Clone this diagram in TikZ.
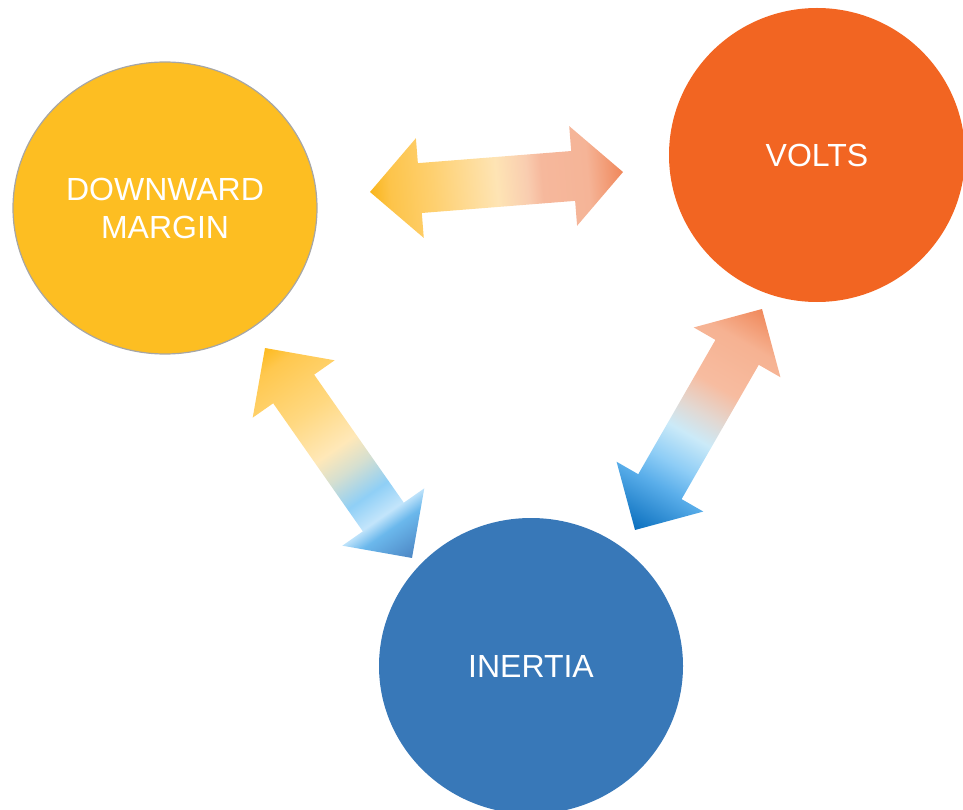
\documentclass[tikz,border=0pt]{standalone}
\usepackage{fontspec}
\setmainfont{Liberation Sans}
\usetikzlibrary{shapes.geometric,calc}

\definecolor{sunYellow}{HTML}{FDBE22}
\definecolor{voltOrange}{HTML}{F26522}
\definecolor{inertiaBlue}{HTML}{3878B8}
\definecolor{rimGray}{HTML}{A6A6A6}

% stops for the arrow shadings
\definecolor{yoA}{HTML}{F9B51C}\definecolor{yoB}{HTML}{FDC44A}\definecolor{yoC}{HTML}{FED070}
\definecolor{yoD}{HTML}{FEE4B4}\definecolor{yoE}{HTML}{F9CDB0}\definecolor{yoF}{HTML}{F6B89C}
\definecolor{yoG}{HTML}{F5B497}\definecolor{yoH}{HTML}{F0875A}
\definecolor{ybA}{HTML}{FDBA1E}\definecolor{ybB}{HTML}{FFC84F}\definecolor{ybC}{HTML}{FFD880}
\definecolor{ybD}{HTML}{FFE8B8}\definecolor{ybE}{HTML}{D5DFD0}\definecolor{ybF}{HTML}{8FCFF6}
\definecolor{ybG}{HTML}{C3E5FB}\definecolor{ybH}{HTML}{6BB8EC}\definecolor{ybI}{HTML}{4C86C4}
\definecolor{obA}{HTML}{F0885A}\definecolor{obB}{HTML}{F6B292}\definecolor{obC}{HTML}{F7BCA0}
\definecolor{obD}{HTML}{E2D8D2}\definecolor{obE}{HTML}{CBEAF8}\definecolor{obF}{HTML}{8ECDF6}
\definecolor{obG}{HTML}{5AAEEA}\definecolor{obH}{HTML}{0A6FBE}

% shadings for the fat arrows, start end on the left
\pgfdeclarehorizontalshading{shYO}{100bp}{color(0bp)=(yoA); color(25bp)=(yoA);
  color(29bp)=(yoB); color(37.5bp)=(yoC); color(50bp)=(yoD); color(56bp)=(yoE);
  color(59bp)=(yoF); color(68bp)=(yoG); color(75bp)=(yoH); color(100bp)=(yoH)}
\pgfdeclarehorizontalshading{shYB}{100bp}{color(0bp)=(ybA); color(25bp)=(ybA);
  color(29bp)=(ybB); color(40bp)=(ybC); color(49bp)=(ybD); color(54bp)=(ybE);
  color(60bp)=(ybF); color(65bp)=(ybG); color(68bp)=(ybH); color(75bp)=(ybI); color(100bp)=(ybI)}
\pgfdeclarehorizontalshading{shOB}{100bp}{color(0bp)=(obA); color(25bp)=(obA);
  color(32.5bp)=(obB); color(42.5bp)=(obC); color(48.5bp)=(obD); color(53.5bp)=(obE);
  color(60bp)=(obF); color(65bp)=(obG); color(75bp)=(obH); color(100bp)=(obH)}

% fat double arrow from #1 to #2 with shading #3
\newcommand{\fatarrow}[3]{%
  \path let \p1=(#1), \p2=(#2),
            \n1={atan2(\y2-\y1,\x2-\x1)},
            \n2={veclen(\x2-\x1,\y2-\y1)} in
        \pgfextra{\xdef\arrX{\x1}\xdef\arrY{\y1}\xdef\arrAng{\n1}\xdef\arrLen{\n2}};
  \begin{scope}[transform canvas={shift={(\arrX,\arrY)},rotate=\arrAng}]
    \shade[shading=#3] (0,0) -- (50,50) -- (50,25) -- (\arrLen-50,25) -- (\arrLen-50,50)
      -- (\arrLen,0) -- (\arrLen-50,-50) -- (\arrLen-50,-25) -- (50,-25) -- (50,-50) -- cycle;
  \end{scope}}

\begin{document}
\begin{tikzpicture}[x=1pt,y=-1pt]
    \tikzstyle{bubble} = [ellipse, text=white, align=center, inner sep=0pt,
                          font=\fontsize{32}{38}\selectfont];
    \useasboundingbox (0,0) rectangle (963,810);

    \node[bubble, fill=sunYellow, draw=rimGray, line width=1.2pt,
          minimum width=304, minimum height=292] (margin) at (165,208) {DOWNWARD\\MARGIN};
    \node[bubble, fill=voltOrange, minimum width=296, minimum height=294] (volts) at (817,155) {VOLTS};
    \node[bubble, fill=inertiaBlue, minimum width=304, minimum height=296] (inertia) at (531,666) {INERTIA};

    % arrow ends
    \coordinate (mv1) at (370,192);
    \coordinate (mv2) at (623,172);
    \coordinate (mi1) at (265,348);
    \coordinate (mi2) at (412,558);
    \coordinate (vi1) at (762,309);
    \coordinate (vi2) at (635,530);

    \fatarrow{mv1}{mv2}{shYO}
    \fatarrow{mi1}{mi2}{shYB}
    \fatarrow{vi1}{vi2}{shOB}
\end{tikzpicture}
\end{document}
